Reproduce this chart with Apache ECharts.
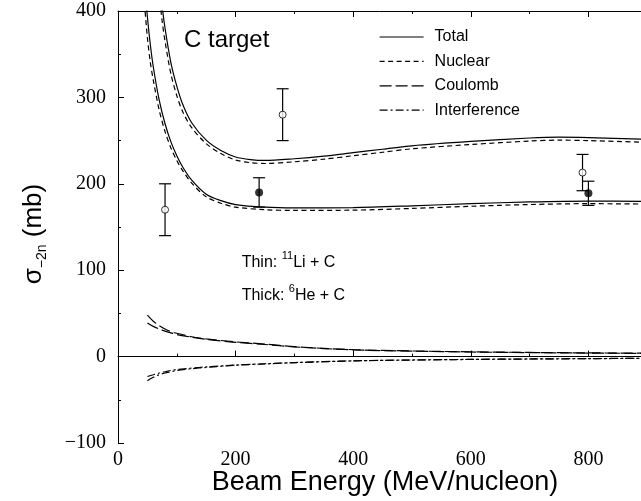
<!DOCTYPE html>
<html><head><meta charset="utf-8">
<script src="https://cdn.jsdelivr.net/npm/echarts@6/dist/echarts.min.js"></script>
<style>html,body{margin:0;padding:0;background:#fff}#c{width:641px;height:501px}</style>
</head><body><div id="c"></div>
<script>
// ---- data ----
const energyThin = [70,75,80,90,100,110,125,150,175,200,225,250,300,350,400,450,500,600,700,750,800,900];
const thinTotal   = [440,406,380,340,313,292,271,250.5,238.5,231,228,227,229,232,236,240,244,249,253,254,253.5,251.5];
const thinNuclear = [421,388.7,365,327,302,283.5,265.2,246.5,235,227.5,224.5,223.5,225.5,228.5,232.5,236.5,240.5,245.5,249.5,250.5,250,248];

const energyThick = [45,50,55,60,70,80,90,100,110,125,150,175,200,250,300,400,500,600,700,800,900];
const thickTotal   = [433,393,361,335.5,297,269.5,248.5,232.5,219.5,204.5,188,180.5,176,173,172.2,172.5,174.5,177,179,180,179.5];
const thickNuclear = [409,369,340.5,320,285.5,260.5,241.5,227,215.3,201,185,177.5,173,170,169.2,169.5,171.5,174,176,177,176.5];

const energySmall = [50,60,70,80,90,100,125,150,200,250,300,400,500,600,700,800,900];
const coulombA = [48,41,36,32,29,27,23,20.5,17,14.5,11.5,8,6.5,5.5,4.8,4.3,3.9];
const coulombB = [39,35,32,29.5,27.5,25.5,22.5,20,16.5,14,11.2,7.8,6.3,5.3,4.6,4.1,3.7];
const interfA = [-28,-24,-21,-19,-17.5,-16,-14,-12.5,-10,-8.5,-7,-5,-4,-3.3,-2.8,-2.4,-2];
const interfB = [-23,-21,-19,-17.5,-16,-15,-13.3,-12,-9.8,-8.3,-6.9,-4.9,-3.9,-3.2,-2.7,-2.3,-1.9];

const thinExpE = [80,280,790];
const thinExpVal = [170,280,213];
const thinExpErr = [30,30,21];
const thickExpE = [240,800];
const thickExpVal = [190,189];
const thickExpErr = [17,14];

const xTicks = {min:0, max:1000, interval:200};
const yTicks = {min:-100, max:400, interval:100};
const legendNames = ['Total','Nuclear','Coulomb','Interference'];

// ---- build ----
const zip = (xs, ys) => xs.map((x,i)=>[x, ys[i]]);
const SANS = 'Liberation Sans', SERIF = 'Liberation Serif';
const dashN = [5,3.5], dashC = [12,4], dashI = [8,3,2,3];
function lineSeries(name, xs, ys, type){
  return {type:'line', name, data:zip(xs,ys), symbol:'none', smooth:0.3, clip:true,
    lineStyle:{color:'#000', width:1.2, type}, itemStyle:{color:'#000'}, z:3};
}
const errData = thinExpE.map((e,i)=>[e, thinExpVal[i]-thinExpErr[i], thinExpVal[i]+thinExpErr[i]])
  .concat(thickExpE.map((e,i)=>[e, thickExpVal[i]-thickExpErr[i], thickExpVal[i]+thickExpErr[i]]));

const axisCommon = {
  axisLine:{show:true, lineStyle:{color:'#000', width:1}},
  axisTick:{show:true, inside:true, length:6, lineStyle:{color:'#000', width:1}},
  minorTick:{show:true, splitNumber:2, length:3, lineStyle:{color:'#000', width:1}},
  splitLine:{show:false}
};

const chart = echarts.init(document.getElementById('c'), null, {renderer:'canvas'});
chart.setOption({
  animation:false,
  backgroundColor:'#fff',
  grid:{left:118, top:11, right:-65, bottom:58, containLabel:false, outerBoundsMode:'none'},
  legend:{data:legendNames, orient:'vertical', left:379, top:29, padding:0,
    itemWidth:44, itemHeight:14, itemGap:8.4,
    itemStyle:{opacity:0}, lineStyle:{width:1.2},
    textStyle:{fontFamily:SANS, fontSize:16, color:'#000', padding:[0,0,0,6]}},
  xAxis:[
    Object.assign({type:'value', position:'bottom', min:xTicks.min, max:xTicks.max, interval:xTicks.interval,
      axisLabel:{margin:7, fontFamily:SERIF, fontSize:20, color:'#000'}}, axisCommon),
    Object.assign({type:'value', position:'top', min:xTicks.min, max:xTicks.max, interval:xTicks.interval,
      axisLabel:{show:false}}, axisCommon)
  ],
  yAxis:[
    Object.assign({type:'value', min:yTicks.min, max:yTicks.max, interval:yTicks.interval,
      axisLabel:{margin:12, fontFamily:SERIF, fontSize:20, color:'#000',
        formatter:v => v<0 ? '\u2212'+(-v) : String(v)}}, axisCommon)
  ],
  graphic:[
    {type:'text', x:184, y:40, style:{text:'C target', fontSize:24, fontFamily:SANS, fill:'#000', verticalAlign:'middle'}},
    {type:'text', x:241.7, y:262.7, style:{text:'Thin: {s|11}Li + C', fontSize:16, lineHeight:24, fontFamily:SANS, fill:'#000', verticalAlign:'middle',
      rich:{s:{fontSize:11, lineHeight:11, fontFamily:SANS, fill:'#000', verticalAlign:'top'}}}},
    {type:'text', x:241.7, y:295.1, style:{text:'Thick: {s|6}He + C', fontSize:16, lineHeight:24, fontFamily:SANS, fill:'#000', verticalAlign:'middle',
      rich:{s:{fontSize:11, lineHeight:11, fontFamily:SANS, fill:'#000', verticalAlign:'top'}}}},
    {type:'text', x:385, y:482.5, style:{text:'Beam Energy (MeV/nucleon)', fontSize:27, fontFamily:SANS, fill:'#000', align:'center', verticalAlign:'middle'}},
    {type:'text', x:34, y:234, rotation:Math.PI/2, style:{text:'\u03c3{s|\u22122n} (mb)', fontSize:26, lineHeight:30, fontFamily:SANS, fill:'#000', align:'center', verticalAlign:'middle',
      rich:{s:{fontSize:14, lineHeight:24, fontFamily:SANS, fill:'#000', verticalAlign:'bottom'}}}}
  ],
  series:[
    lineSeries('Total', energyThin, thinTotal, 'solid'),
    lineSeries('Nuclear', energyThin, thinNuclear, dashN),
    lineSeries('Total', energyThick, thickTotal, 'solid'),
    lineSeries('Nuclear', energyThick, thickNuclear, dashN),
    lineSeries('Coulomb', energySmall, coulombA, dashC),
    lineSeries('Coulomb', energySmall, coulombB, dashC),
    lineSeries('Interference', energySmall, interfA, dashI),
    lineSeries('Interference', energySmall, interfB, dashI),
    {type:'custom', name:'err', data:errData, encode:{x:0, y:[1,2]}, z:4, clip:true,
      renderItem:(params, api)=>{
        const x = api.value(0);
        const lo = api.coord([x, api.value(1)]), hi = api.coord([x, api.value(2)]);
        const w = 6, st = {stroke:'#000', lineWidth:1.2};
        return {type:'group', children:[
          {type:'line', shape:{x1:lo[0], y1:lo[1], x2:hi[0], y2:hi[1]}, style:st},
          {type:'line', shape:{x1:lo[0]-w, y1:lo[1], x2:lo[0]+w, y2:lo[1]}, style:st},
          {type:'line', shape:{x1:hi[0]-w, y1:hi[1], x2:hi[0]+w, y2:hi[1]}, style:st}
        ]};
      }},
    {type:'scatter', name:'thinExp', data:zip(thinExpE, thinExpVal), symbol:'circle', symbolSize:7, z:5,
      itemStyle:{color:'#fff', borderColor:'#000', borderWidth:1}},
    {type:'scatter', name:'thickExp', data:zip(thickExpE, thickExpVal), symbol:'circle', symbolSize:8, z:5,
      itemStyle:{color:'#000'}}
  ]
});
</script></body></html>
